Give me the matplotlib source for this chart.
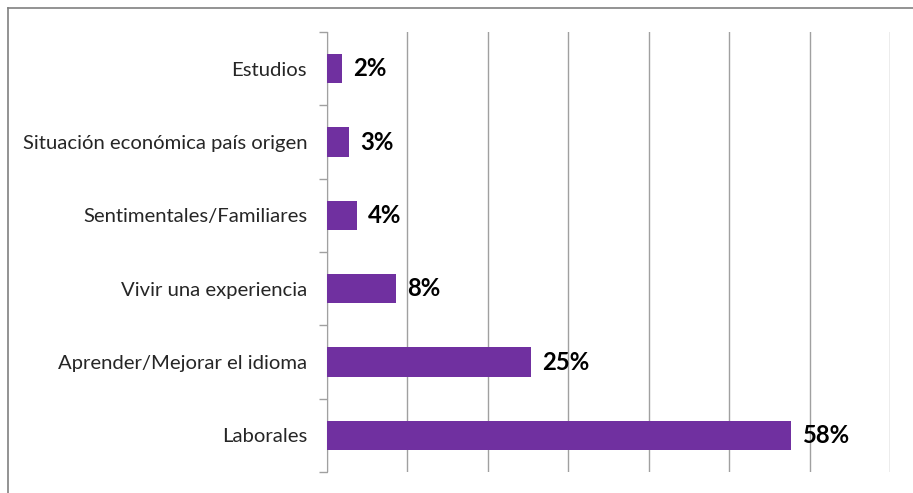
import matplotlib
matplotlib.use("Agg")
import matplotlib.pyplot as plt
from matplotlib.lines import Line2D

categories = ["Laborales", "Aprender/Mejorar el idioma", "Vivir una experiencia",
              "Sentimentales/Familiares", "Situación económica país origen", "Estudios"]
values = [57.7, 25.4, 8.6, 3.8, 2.8, 1.95]
value_labels = ["58%", "25%", "8%", "4%", "3%", "2%"]

purple = "#7030A0"
plt.rcParams['font.family'] = ['Lato', 'DejaVu Sans']

fig = plt.figure(figsize=(9.13, 4.93), dpi=100)
ax = fig.add_axes([326.5/913, 1-472/493, (890-326.5)/913, (472-32)/493])

y = list(range(len(categories)))
ax.barh(y, values, height=0.4, color=purple, zorder=3)
ax.set_xlim(0, 70)
ax.set_ylim(-0.5, len(categories)-0.5)
ax.set_xticks(range(0, 71, 10))
ax.xaxis.grid(True, color="#A0A0A0", linewidth=1.0, zorder=0)
ax.tick_params(axis='x', length=0, labelbottom=False)

ax.set_yticks([i + 0.5 for i in range(-1, len(categories))], minor=False)
ax.set_yticklabels([])
ax.tick_params(axis='y', which='major', length=6, width=1, color="#A0A0A0", direction='out')
ax.set_yticks(y, minor=True)
ax.set_yticklabels(categories, minor=True, fontsize=14.6, color="#262626")
ax.tick_params(axis='y', which='minor', length=0, pad=14)

for s in ["top", "right", "bottom"]:
    ax.spines[s].set_visible(False)
ax.spines["left"].set_color("#A0A0A0")

for yi, v, lab in zip(y, values, value_labels):
    ax.annotate(lab, (v, yi), xytext=(8, 0), textcoords="offset points",
                va="center", ha="left", fontsize=17.2, fontweight="bold", color="black")

fig.add_artist(Line2D([7.5/913, 1], [1-8/493, 1-8/493], color="#808080", linewidth=1.2, transform=fig.transFigure))
fig.add_artist(Line2D([7.5/913, 7.5/913], [0, 1-8/493], color="#808080", linewidth=1.2, transform=fig.transFigure))

fig.savefig("out.png", dpi=100)
